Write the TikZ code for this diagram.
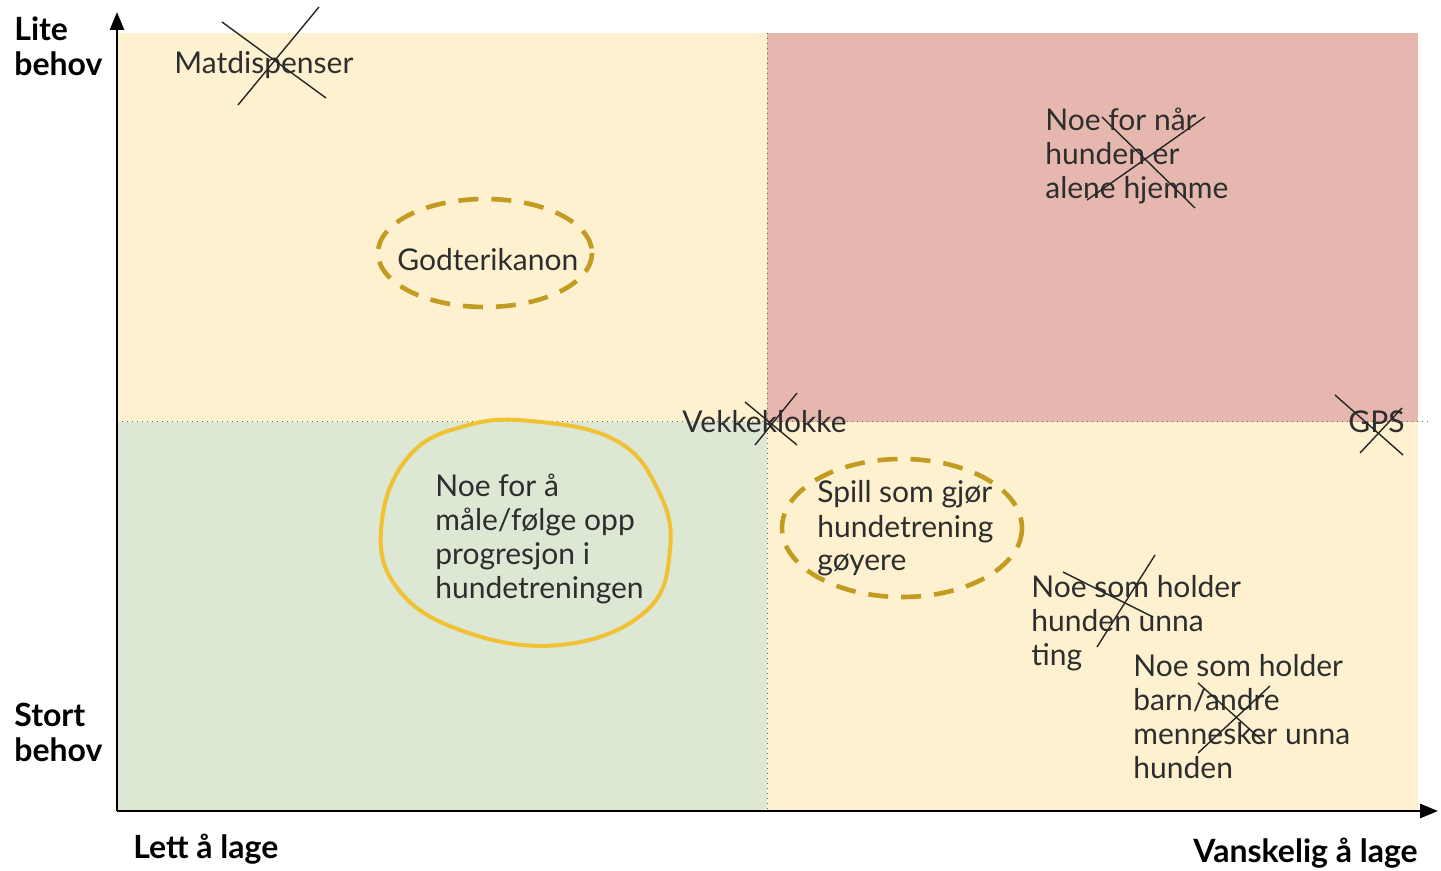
\documentclass[tikz,border=0pt]{standalone}
\usepackage{fontspec}
\setmainfont{Lato}
\usetikzlibrary{arrows.meta}
\definecolor{qyellow}{HTML}{FDF1CF}
\definecolor{qpink}{HTML}{E5B7AE}
\definecolor{qgreen}{HTML}{DCE7D4}
\definecolor{golddash}{HTML}{C29B20}
\definecolor{goldsolid}{HTML}{F0C233}
\definecolor{txt}{HTML}{2E2E2E}
\tikzset{
  idea/.style={anchor=base west, inner sep=0pt, align=left, text=txt,
    font=\fontsize{15pt}{17pt}\selectfont},
  axislabel/.style={inner sep=0pt, align=left, text=black,
    font=\fontsize{16pt}{17.5pt}\selectfont\bfseries},
  strike/.style={draw=black!85, line width=0.7pt},
  dashring/.style={draw=golddash, line width=2.3pt, dash pattern=on 10pt off 6.5pt},
  solidring/.style={draw=goldsolid, line width=2pt},
  axis/.style={line width=1.4pt, -{Triangle[length=9pt,width=7pt]}},
  divider/.style={draw=black!60, line width=0.5pt, dotted}
}
\begin{document}
\begin{tikzpicture}[x=0.5pt,y=-0.5pt]
\useasboundingbox (0,0) rectangle (1441,871);
\fill[white] (0,0) rectangle (1441,871);
% quadrants
\fill[qyellow] (117,33) rectangle (767,422);
\fill[qpink] (767,33) rectangle (1418,422);
\fill[qgreen] (117,422) rectangle (767,811);
\fill[qyellow] (767,422) rectangle (1418,811);
% dividers
\coordinate (hl) at (117,422);
\coordinate (hr) at (1428,422);
\coordinate (vt) at (767,33);
\coordinate (vb) at (767,811);
\draw[divider] (hl) -- (hr);
\draw[divider] (vt) -- (vb);
% axes
\coordinate (origin) at (117,811);
\coordinate (ytop) at (117,12);
\coordinate (xend) at (1438,811);
\draw[axis] (origin) -- (ytop);
\draw[axis] (origin) -- (xend);
% axis labels (anchor = baseline of last line)
\node[axislabel, anchor=base west] (lite) at (14,76) {Lite\\behov};
\node[axislabel, anchor=base west] (stort) at (14,761) {Stort\\behov};
\node[axislabel, anchor=base west] (lett) at (133,858) {Lett å lage};
\node[axislabel, anchor=base east] (vansk) at (1418,862) {Vanskelig å lage};
% rings
\draw[dashring] (485,253) ellipse [x radius=107, y radius=54];
\draw[dashring] (902,528) ellipse [x radius=120, y radius=69];
\draw[solidring] plot[smooth cycle, tension=0.7] coordinates {(530,421) (615,440) (658,490) (670,550) (645,612) (560,645) (460,630) (395,585) (382,520) (410,455) (465,426)};
% ideas (anchor = baseline of last line)
\node[idea] (mat) at (174,74) {Matdispenser};
\node[idea] (god) at (397,271) {Godterikanon};
\node[idea] (alene) at (1045,199) {Noe for når\\hunden er\\alene hjemme};
\node[idea] (vekke) at (682,433) {Vekkeklokke};
\node[idea] (gps) at (1348,433) {GPS};
\node[idea] (maale) at (435,598) {Noe for å\\måle/følge opp\\progresjon i\\hundetreningen};
\node[idea] (spill) at (817,571) {Spill som gjør\\hundetrening\\gøyere};
\node[idea] (ting) at (1031,665) {Noe som holder\\hunden unna\\ting};
\node[idea] (barn) at (1133,778) {Noe som holder\\barn/andre\\mennesker unna\\hunden};
% crosses
\draw[strike] (222,22) -- (326,98);
\draw[strike] (319,7) -- (238,105);
\draw[strike] (1102,117) -- (1195,208);
\draw[strike] (1205,117) -- (1087,200);
\draw[strike] (745,402) -- (797,445);
\draw[strike] (797,393) -- (755,445);
\draw[strike] (1335,395) -- (1403,455);
\draw[strike] (1402,408) -- (1360,453);
\draw[strike] (1063,572) -- (1153,617);
\draw[strike] (1155,555) -- (1097,647);
\draw[strike] (1198,683) -- (1265,743);
\draw[strike] (1270,686) -- (1198,753);
\end{tikzpicture}
\end{document}
